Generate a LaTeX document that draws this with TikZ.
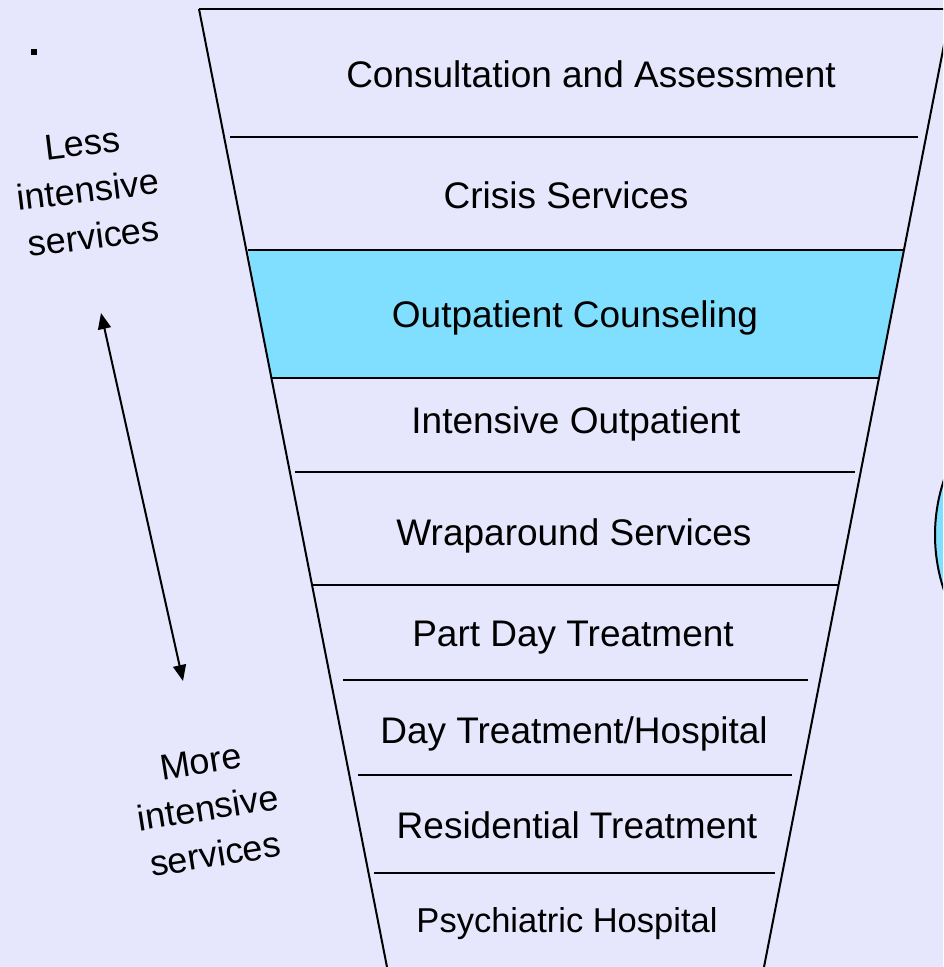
\documentclass[tikz,border=0pt]{standalone}
\usepackage{fontspec}
\setmainfont{Liberation Sans}
\usetikzlibrary{arrows.meta}
\definecolor{lavbg}{RGB}{230,230,252}
\definecolor{skyband}{RGB}{128,222,255}
\tikzset{
  stage/.style={font=\fontsize{37}{44}\selectfont, inner sep=0pt, anchor=base},
  sidelabel/.style={font=\fontsize{36}{47}\selectfont, align=center, inner sep=0pt},
  divider/.style={line width=1.5pt}
}
\begin{document}
\begin{tikzpicture}[x=1pt,y=-1pt]
    \fill[lavbg] (0,0) rectangle (943,967);
    \useasboundingbox (0,0) rectangle (943,967);
    \clip (0,0) rectangle (943,967);
    % highlighted band and the circle at the right
    \fill[skyband] (248,250) -- (904,250) -- (880,378) -- (271,378) -- cycle;
    \draw[divider] (248,250) -- (904,250);
    \draw[divider] (271,378) -- (880,378);
    \filldraw[fill=skyband, line width=2pt] (1108,535) circle[radius=173pt];
    % funnel
    \draw[line width=2pt] (199,9) -- (955,9);
    \draw[line width=2pt] (199,9) -- (387,967);
    \draw[line width=2pt] (951,9) -- (764,967);
    \foreach \yy/\xl/\xr in {137/230/918, 472/295/855, 585/313/838, 680/343/808, 775/358/792, 873/374/775}
        \draw[divider] (\xl,\yy) -- (\xr,\yy);
    \node[stage] (consult) at (591,87) {Consultation and Assessment};
    \node[stage] (crisis) at (566,208) {Crisis Services};
    \node[stage] (outpat) at (575,327) {Outpatient Counseling};
    \node[stage] (intens) at (576,433) {Intensive Outpatient};
    \node[stage] (wrap) at (574,545) {Wraparound Services};
    \node[stage] (partday) at (573,646) {Part Day Treatment};
    \node[stage] (dayhosp) at (574,743) {Day Treatment/Hospital};
    \node[stage] (resid) at (577,838) {Residential Treatment};
    \node[stage, font=\fontsize{34.5}{41}\selectfont] (psych) at (567,932) {Psychiatric Hospital};
    % left side
    \fill (31,49) rectangle (37,55);
    \node[sidelabel, rotate=7] (less) at (88,190) {Less\\intensive\\services};
    \node[sidelabel, rotate=9] (more) at (208,808) {More\\intensive\\services};
    \coordinate (lesstip) at (101,313);
    \coordinate (moretip) at (183,681);
    \draw[line width=2pt, {Triangle[length=16pt,width=13pt]}-{Triangle[length=16pt,width=13pt]}] (lesstip) -- (moretip);
\end{tikzpicture}
\end{document}
